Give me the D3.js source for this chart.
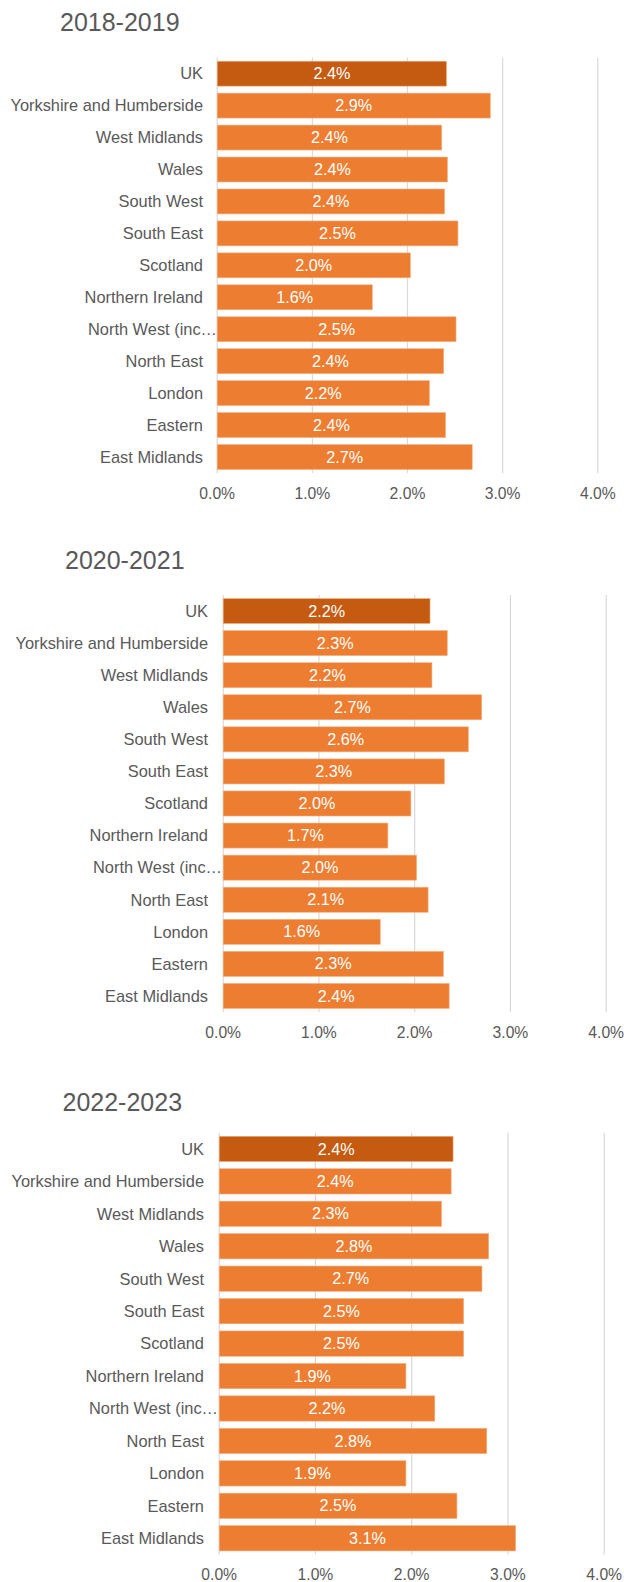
<!DOCTYPE html>
<html>
<head>
<meta charset="utf-8">
<script src="https://cdn.jsdelivr.net/npm/d3@7"></script>
<style>
  body { margin: 0; background: #fff; }
  text { font-family: "Liberation Sans", Arial, sans-serif; }
</style>
</head>
<body>
<div id="chart"></div>
<script>
// values in percent
const categories = ["UK", "Yorkshire and Humberside", "West Midlands", "Wales", "South West", "South East",
  "Scotland", "Northern Ireland", "North West (inc…", "North East", "London", "Eastern", "East Midlands"];
const periods = ["2018-2019", "2020-2021", "2022-2023"];
const rates2018 = [2.41, 2.87, 2.36, 2.42, 2.39, 2.53, 2.03, 1.63, 2.51, 2.38, 2.23, 2.40, 2.68];
const rates2020 = [2.16, 2.34, 2.18, 2.70, 2.56, 2.31, 1.96, 1.72, 2.02, 2.14, 1.64, 2.30, 2.36];
const rates2022 = [2.43, 2.41, 2.31, 2.80, 2.73, 2.54, 2.54, 1.94, 2.24, 2.78, 1.94, 2.47, 3.08];
const ticks = [0, 1, 2, 3, 4];

const W = 624, H = 1582;
const txt = "#595959", grid = "#d9d9d9";

// panel placement
const panels = [
  { title: periods[0], values: rates2018, tx: 60, ty: 31,     top: 57.7,   bottom: 473,    x0: 217.2, x4: 597.8, lab: 203 },
  { title: periods[1], values: rates2020, tx: 65, ty: 569,    top: 595,    bottom: 1012,   x0: 223.2, x4: 606.2, lab: 208 },
  { title: periods[2], values: rates2022, tx: 62.5, ty: 1110.7, top: 1132.7, bottom: 1554.5, x0: 219.2, x4: 604.2, lab: 204 }
];

const svg = d3.select("#chart").append("svg")
  .attr("width", W)
  .attr("height", H);

const fmt = d => d3.format(".1f")(d) + "%";

panels.forEach(p => {
  const g = svg.append("g");

  const x = d3.scaleLinear().domain([0, 4]).range([p.x0, p.x4]),
        y = d3.scaleBand().domain(categories).range([p.top, p.bottom]).paddingInner(0.22).paddingOuter(0.11);

  g.append("text")
    .attr("x", p.tx).attr("y", p.ty)
    .attr("font-size", 25)
    .attr("fill", txt)
    .text(p.title);

  // gridlines
  g.selectAll(".grid").data(ticks).enter().append("line")
    .attr("x1", d => x(d)).attr("x2", d => x(d))
    .attr("y1", p.top).attr("y2", p.bottom)
    .attr("stroke", grid).attr("stroke-width", 1.2);

  // tick labels
  g.selectAll(".tick").data(ticks).enter().append("text")
    .attr("x", d => x(d)).attr("y", p.bottom + 25.5)
    .attr("text-anchor", "middle")
    .attr("font-size", 15.7)
    .attr("fill", txt)
    .text(fmt);

  const rows = categories.map((c, i) => ({ cat: c, v: p.values[i] }));

  g.selectAll(".bar").data(rows).enter().append("rect")
    .attr("x", x(0))
    .attr("y", d => y(d.cat))
    .attr("width", d => x(d.v) - x(0))
    .attr("height", y.bandwidth())
    .attr("fill", d => d.cat === "UK" ? "#c55a11" : "#ed7d31")
    .attr("stroke", "#f4b183")
    .attr("stroke-width", 0.6);

  g.selectAll(".val").data(rows).enter().append("text")
    .attr("x", d => (x(0) + x(d.v)) / 2)
    .attr("y", d => y(d.cat) + y.bandwidth() / 2 + 5.6)
    .attr("text-anchor", "middle")
    .attr("font-size", 16.2)
    .attr("fill", "#fff")
    .text(d => fmt(d.v));

  g.selectAll(".cat").data(rows).enter().append("text")
    .attr("x", d => p.lab + (d.cat.endsWith("…") ? 14 : 0))
    .attr("y", d => y(d.cat) + y.bandwidth() / 2 + 5.8)
    .attr("text-anchor", "end")
    .attr("font-size", 16.4)
    .attr("fill", txt)
    .text(d => d.cat);
});
</script>
</body>
</html>
